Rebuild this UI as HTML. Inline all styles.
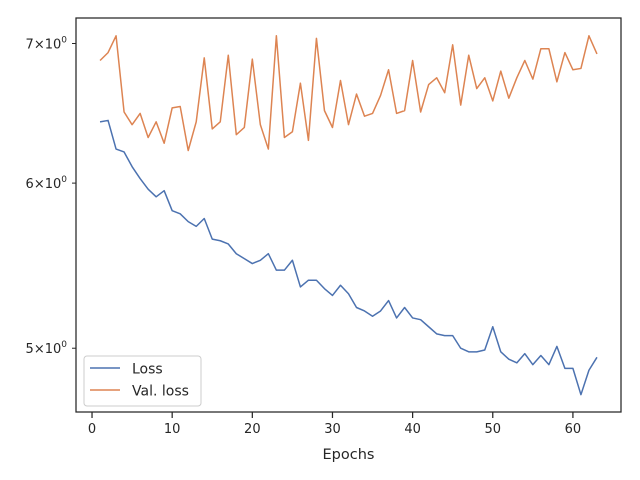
<!DOCTYPE html>
<html><head><meta charset="utf-8"><style>
body{margin:0;background:#fff;}
svg{display:block;font-family:"DejaVu Sans","Liberation Sans",sans-serif;}
</style></head><body>
<svg id="chart" width="640" height="480" viewBox="0 0 640 480" xmlns="http://www.w3.org/2000/svg">
<rect x="0" y="0" width="640" height="480" fill="#fff"/>
<g id="ticks"></g>
<g id="series"></g>
<rect x="76" y="18" width="545" height="394" fill="none" stroke="#262626" stroke-width="1.25"/>
<text x="348.5" y="459" font-size="14.5" fill="#262626" text-anchor="middle">Epochs</text>
<g>
<rect x="84" y="356" width="117" height="50" rx="3" fill="#fff" fill-opacity="0.8" stroke="#ccc"/>
<g><line x1="90" y1="368" x2="120" y2="368" stroke="#4c72b0" stroke-width="1.5"/><text x="132" y="373.5" font-size="14" fill="#262626">Loss</text></g>
<g><line x1="90" y1="390" x2="120" y2="390" stroke="#dd8452" stroke-width="1.5"/><text x="132" y="395.5" font-size="14" fill="#262626">Val. loss</text></g>
</g>
</svg>
<script>
const loss = [6.42,6.43,6.23,6.21,6.11,6.03,5.96,5.91,5.95,5.82,5.80,5.75,5.72,5.77,5.64,5.63,5.61,5.55,5.52,5.49,5.51,5.55,5.45,5.45,5.51,5.35,5.39,5.39,5.34,5.30,5.36,5.31,5.23,5.21,5.18,5.21,5.27,5.17,5.23,5.17,5.16,5.12,5.08,5.07,5.07,5.00,4.98,4.98,4.99,5.12,4.98,4.94,4.92,4.97,4.91,4.96,4.91,5.01,4.89,4.89,4.75,4.88,4.95];
const valLoss = [6.87,6.93,7.06,6.49,6.40,6.48,6.31,6.42,6.27,6.52,6.53,6.22,6.42,6.89,6.37,6.42,6.91,6.33,6.38,6.88,6.40,6.23,7.06,6.31,6.35,6.70,6.29,7.04,6.50,6.38,6.72,6.40,6.62,6.46,6.48,6.61,6.80,6.48,6.50,6.87,6.49,6.69,6.74,6.63,6.99,6.54,6.91,6.66,6.74,6.57,6.79,6.59,6.74,6.87,6.73,6.96,6.96,6.71,6.93,6.80,6.81,7.06,6.92];
const xTicks = [0,10,20,30,40,50,60];
const yTicks = [5,6,7];
const xMin=-2, xMax=66, yMin=4.66, yMax=7.20;
const L=76,R=621,T=18,B=412;
const sx=v=>L+(v-xMin)/(xMax-xMin)*(R-L);
const sy=v=>B-(Math.log(v)-Math.log(yMin))/(Math.log(yMax)-Math.log(yMin))*(B-T);
const NS="http://www.w3.org/2000/svg";
const tg=document.getElementById('ticks'), sg=document.getElementById('series');
function mk(tag,attrs,parent){const e=document.createElementNS(NS,tag);for(const k in attrs)e.setAttribute(k,attrs[k]);parent.appendChild(e);return e;}
xTicks.forEach(t=>{
  const x=sx(t);
  const ln=mk('line',{x1:x,y1:B,x2:x,y2:B+6,stroke:'#262626','stroke-width':1.25},tg);
  
  
  const tx=mk('text',{x:x,y:B+21,'font-size':13,fill:'#262626','text-anchor':'middle'},tg);
  
  
  tx.textContent=t;
});
yTicks.forEach(t=>{
  const y=sy(t);
  const ln=mk('line',{x1:L-4,y1:y,x2:L,y2:y,stroke:'#262626','stroke-width':1},tg);
  
  
  const tx=mk('text',{x:L-9,y:y+5,'font-size':13,fill:'#262626','text-anchor':'end'},tg);
  
  
  tx.textContent=t+'\u00d710';
  const sup=mk('tspan',{dy:-6,'font-size':9},tx);
  sup.textContent='0';
});
function line(data,color,name){
  const pts=data.map((v,i)=>sx(i+1).toFixed(2)+','+sy(v).toFixed(2)).join(' ');
  const p=mk('polyline',{points:pts,fill:'none',stroke:color,'stroke-width':1.5,'stroke-linejoin':'round'},sg);
  
  
}
line(loss,'#4c72b0','loss-line');
line(valLoss,'#dd8452','val-loss-line');
</script>
</body></html>
